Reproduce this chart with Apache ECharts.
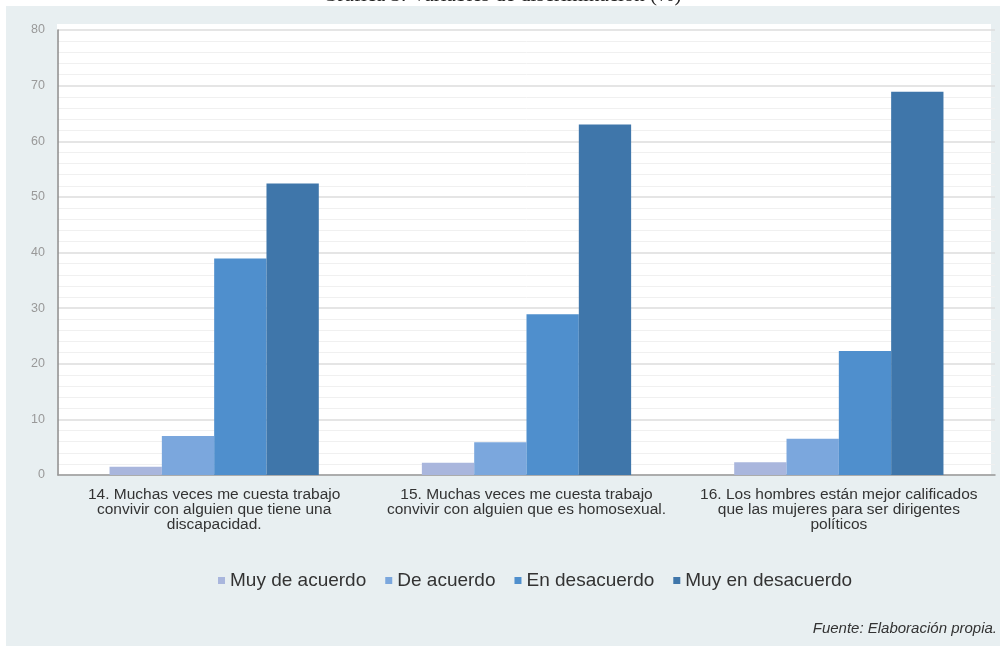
<!DOCTYPE html>
<html>
<head>
<meta charset="utf-8">
<script src="https://cdn.jsdelivr.net/npm/echarts@6/dist/echarts.min.js"></script>
<style>
  html, body { margin: 0; padding: 0; background: #ffffff; }
  #chart { width: 1004px; height: 646px; }
</style>
</head>
<body>
<div id="chart"></div>
<script>
// Survey items (x-axis categories)
const categories = [
  '14. Muchas veces me cuesta trabajo\nconvivir con alguien que tiene una\ndiscapacidad.',
  '15. Muchas veces me cuesta trabajo\nconvivir con alguien que es homosexual.',
  '16. Los hombres están mejor calificados\nque las mujeres para ser dirigentes\npolíticos'
];

// Percentages per answer option
const muyDeAcuerdo = [1.5, 2.2, 2.3];
const deAcuerdo = [7.0, 5.9, 6.5];
const enDesacuerdo = [38.9, 28.9, 22.3];
const muyEnDesacuerdo = [52.4, 63.0, 68.9];

const seriesNames = ['Muy de acuerdo', 'De acuerdo', 'En desacuerdo', 'Muy en desacuerdo'];
const seriesValues = [muyDeAcuerdo, deAcuerdo, enDesacuerdo, muyEnDesacuerdo];
const seriesColors = ['#a9b6dd', '#7ba7dd', '#4f8fcd', '#3f76aa'];

const yTicks = { min: 0, max: 80, interval: 10 };

const chart = echarts.init(document.getElementById('chart'), null, { renderer: 'canvas' });

chart.setOption({
  animation: false,
  backgroundColor: '#ffffff',
  textStyle: { fontFamily: 'Liberation Sans, Arial, sans-serif' },
  graphic: [
    {
      type: 'text',
      z: -20,
      left: 'center',
      top: -15,
      style: {
        text: 'Gráfica 3. Variables de discriminación (%)',
        font: '21px "Liberation Serif", "Times New Roman", serif',
        fill: '#222'
      }
    },
    {
      type: 'rect',
      z: -10,
      shape: { x: 6, y: 6, width: 994, height: 640 },
      style: { fill: '#e8eff1' }
    },
    {
      type: 'rect',
      z: -5,
      shape: { x: 57, y: 24, width: 934, height: 451 },
      style: { fill: '#ffffff' }
    },
    {
      type: 'text',
      z: 5,
      right: 7,
      top: 621,
      style: {
        text: 'Fuente: Elaboración propia.',
        font: 'italic 15px "Liberation Sans", Arial, sans-serif',
        fill: '#333'
      }
    }
  ],
  grid: {
    left: 58,
    right: 9,
    top: 30,
    bottom: 171,
    containLabel: false
  },
  legend: {
    data: seriesNames,
    left: 213,
    top: 566,
    icon: 'rect',
    itemWidth: 7,
    itemHeight: 7,
    itemGap: 19,
    textStyle: {
      fontSize: 19,
      color: '#333',
      fontFamily: 'Liberation Sans, Arial, sans-serif'
    }
  },
  xAxis: {
    type: 'category',
    data: categories,
    axisLine: { show: true, lineStyle: { color: '#9a9a9a', width: 1.5 } },
    axisTick: { show: false },
    axisLabel: {
      interval: 0,
      margin: 12,
      fontSize: 15.5,
      lineHeight: 15,
      color: '#333',
      align: 'center'
    }
  },
  yAxis: {
    type: 'value',
    min: yTicks.min,
    max: yTicks.max,
    interval: yTicks.interval,
    axisLine: { show: true, lineStyle: { color: '#8a8a8a', width: 1.5 } },
    axisTick: { show: false },
    axisLabel: { fontSize: 12.5, color: '#999', margin: 13 },
    splitLine: { show: true, lineStyle: { color: '#dcdcdc', width: 1.5 } },
    minorTick: { show: false, splitNumber: 5 },
    minorSplitLine: { show: true, lineStyle: { color: '#f0f0f0', width: 1 } }
  },
  series: seriesNames.map((name, i) => ({
    name: name,
    type: 'bar',
    data: seriesValues[i],
    barGap: '0%',
    barCategoryGap: '33%',
    itemStyle: { color: seriesColors[i] }
  }))
});
</script>
</body>
</html>
